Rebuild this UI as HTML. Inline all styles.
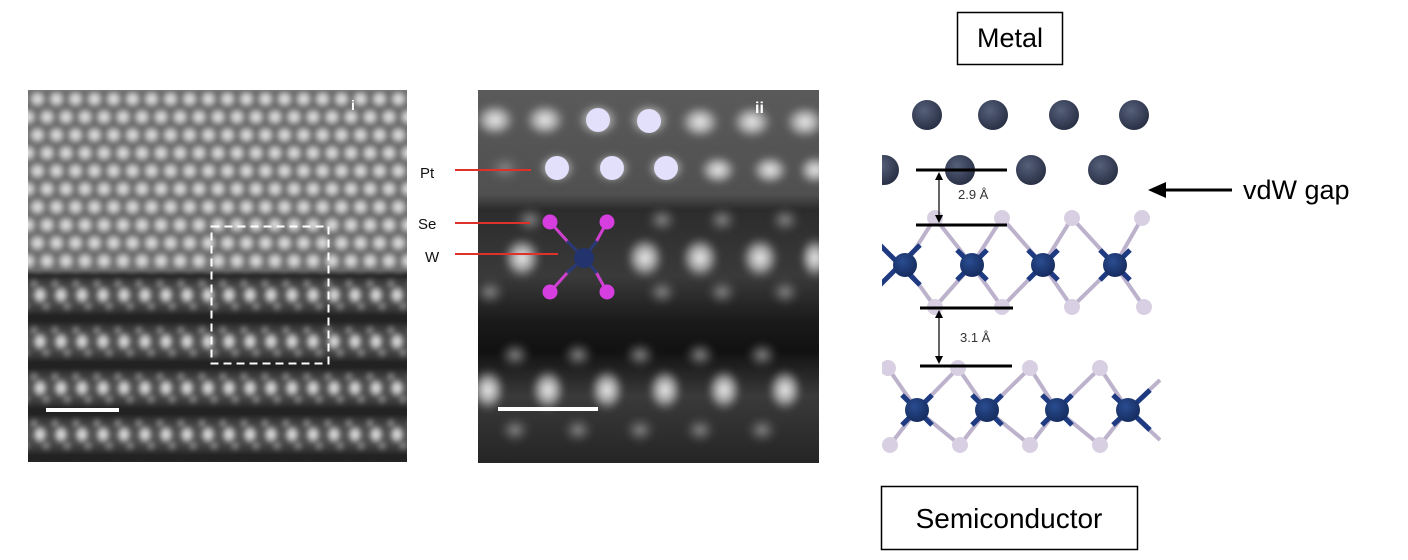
<!DOCTYPE html>
<html><head><meta charset="utf-8"><style>
html,body{margin:0;padding:0;background:#fff;}
body{width:1408px;height:560px;overflow:hidden;position:relative;font-family:"Liberation Sans",Arial,sans-serif;}
</style></head><body>
<svg width="1408" height="560" viewBox="0 0 1408 560" xmlns="http://www.w3.org/2000/svg" style="position:absolute;left:0;top:0">
<defs>
<radialGradient id="gb"><stop offset="0" stop-color="#f0f0f0"/><stop offset="0.5" stop-color="#c4c4c4" stop-opacity="0.85"/><stop offset="1" stop-color="#888" stop-opacity="0"/></radialGradient>
<radialGradient id="gd"><stop offset="0" stop-color="#9a9a9a"/><stop offset="1" stop-color="#777" stop-opacity="0"/></radialGradient>
<filter id="bl" x="-5%" y="-5%" width="110%" height="110%"><feGaussianBlur stdDeviation="2"/></filter>
<filter id="bl2" x="-5%" y="-5%" width="110%" height="110%"><feGaussianBlur stdDeviation="3"/></filter>
<clipPath id="lc"><rect x="28" y="90" width="379" height="372"/></clipPath>
<clipPath id="mc"><rect x="478" y="90" width="341" height="373"/></clipPath>
<pattern id="pTop" x="28" y="90" width="38" height="36" patternUnits="userSpaceOnUse">
<rect width="38" height="36" fill="#6a6a6a"/>
<circle cx="9.5" cy="9" r="10" fill="url(#gb)"/><circle cx="28.5" cy="9" r="10" fill="url(#gb)"/>
<circle cx="0" cy="27" r="10" fill="url(#gb)"/><circle cx="19" cy="27" r="10" fill="url(#gb)"/><circle cx="38" cy="27" r="10" fill="url(#gb)"/>
</pattern>
<linearGradient id="band" x1="0" y1="0" x2="0" y2="1">
<stop offset="0" stop-color="#1a1a1a"/><stop offset="0.3" stop-color="#484848"/><stop offset="0.5" stop-color="#555"/><stop offset="0.7" stop-color="#484848"/><stop offset="1" stop-color="#1a1a1a"/></linearGradient>
<pattern id="pBot" x="30" y="272" width="21" height="46.5" patternUnits="userSpaceOnUse">
<rect width="21" height="46.5" fill="url(#band)"/>
<ellipse cx="10" cy="23" rx="8" ry="10" fill="url(#gb)"/>
<circle cx="4" cy="12" r="6" fill="url(#gd)"/><circle cx="16" cy="34" r="6" fill="url(#gd)"/>
</pattern>
<radialGradient id="gm"><stop offset="0" stop-color="#f0f0f0"/><stop offset="0.5" stop-color="#bbb" stop-opacity="0.8"/><stop offset="1" stop-color="#777" stop-opacity="0"/></radialGradient>
<radialGradient id="gmd"><stop offset="0" stop-color="#8a8a8a"/><stop offset="1" stop-color="#555" stop-opacity="0"/></radialGradient>
<linearGradient id="midbg" x1="0" y1="0" x2="0" y2="1">
<stop offset="0" stop-color="#5a5a5a"/><stop offset="0.28" stop-color="#505050"/><stop offset="0.32" stop-color="#2c2c2c"/><stop offset="0.5" stop-color="#3a3a3a"/><stop offset="0.62" stop-color="#1a1a1a"/><stop offset="0.7" stop-color="#111"/><stop offset="0.82" stop-color="#3a3a3a"/><stop offset="1" stop-color="#252525"/></linearGradient>
</defs>

<!-- Left panel -->
<g clip-path="url(#lc)">
<g filter="url(#bl)">
<rect x="20" y="82" width="395" height="200" fill="url(#pTop)"/>
<rect x="20" y="272" width="395" height="198" fill="url(#pBot)"/>
</g>
</g>
<rect x="211.5" y="226.5" width="117" height="137" fill="none" stroke="#fff" stroke-width="2" stroke-dasharray="8,5"/>
<rect x="46" y="408" width="73" height="4" fill="#fff"/>
<text x="351" y="110" font-size="14" font-weight="bold" fill="#fff">i</text>

<!-- Middle panel -->
<rect x="478" y="90" width="341" height="373" fill="url(#midbg)"/>
<g clip-path="url(#mc)">
<g filter="url(#bl2)">
<g fill="url(#gm)">
<ellipse cx="495" cy="120" rx="22" ry="18"/><ellipse cx="545" cy="120" rx="22" ry="18"/><ellipse cx="598" cy="120" rx="22" ry="18"/><ellipse cx="649" cy="120" rx="22" ry="18"/><ellipse cx="700" cy="122" rx="22" ry="18"/><ellipse cx="752" cy="122" rx="22" ry="18"/><ellipse cx="805" cy="122" rx="22" ry="18"/>
<ellipse cx="505" cy="168" rx="20" ry="16" fill="url(#gmd)"/><ellipse cx="557" cy="168" rx="20" ry="16"/><ellipse cx="612" cy="168" rx="20" ry="16"/><ellipse cx="666" cy="168" rx="20" ry="16"/><ellipse cx="718" cy="170" rx="20" ry="16"/><ellipse cx="770" cy="170" rx="20" ry="16"/><ellipse cx="815" cy="170" rx="18" ry="16"/>
<ellipse cx="522" cy="258" rx="20" ry="22"/><ellipse cx="645" cy="258" rx="20" ry="22"/><ellipse cx="700" cy="258" rx="20" ry="22"/><ellipse cx="760" cy="258" rx="20" ry="22"/><ellipse cx="815" cy="258" rx="16" ry="22"/>
<ellipse cx="488" cy="390" rx="18" ry="22"/><ellipse cx="548" cy="390" rx="18" ry="22"/><ellipse cx="607" cy="390" rx="18" ry="22"/><ellipse cx="665" cy="390" rx="18" ry="22"/><ellipse cx="724" cy="390" rx="18" ry="22"/><ellipse cx="785" cy="390" rx="18" ry="22"/>
</g>
<g fill="url(#gmd)">
<ellipse cx="530" cy="220" rx="16" ry="14"/><ellipse cx="662" cy="220" rx="16" ry="14"/><ellipse cx="722" cy="220" rx="16" ry="14"/><ellipse cx="785" cy="220" rx="16" ry="14"/>
<ellipse cx="490" cy="292" rx="16" ry="14"/><ellipse cx="662" cy="292" rx="16" ry="14"/><ellipse cx="722" cy="292" rx="16" ry="14"/><ellipse cx="785" cy="292" rx="16" ry="14"/>
<ellipse cx="515" cy="355" rx="16" ry="14"/><ellipse cx="578" cy="355" rx="16" ry="14"/><ellipse cx="640" cy="355" rx="16" ry="14"/><ellipse cx="700" cy="355" rx="16" ry="14"/><ellipse cx="762" cy="355" rx="16" ry="14"/>
<ellipse cx="515" cy="430" rx="16" ry="14"/><ellipse cx="578" cy="430" rx="16" ry="14"/><ellipse cx="640" cy="430" rx="16" ry="14"/><ellipse cx="700" cy="430" rx="16" ry="14"/><ellipse cx="762" cy="430" rx="16" ry="14"/>
</g>
</g>
</g>
<g fill="#e2e0fa">
<circle cx="598" cy="120" r="12"/><circle cx="649" cy="121" r="12"/>
<circle cx="557" cy="168" r="12"/><circle cx="612" cy="168" r="12"/><circle cx="666" cy="168" r="12"/>
</g>
<g stroke-width="3" stroke-linecap="round">
<line x1="550" y1="222" x2="568" y2="242" stroke="#d040d0"/><line x1="568" y1="242" x2="584" y2="258" stroke="#2a3a78"/>
<line x1="607" y1="222" x2="596" y2="242" stroke="#d040d0"/><line x1="596" y1="242" x2="584" y2="258" stroke="#2a3a78"/>
<line x1="550" y1="292" x2="568" y2="272" stroke="#d040d0"/><line x1="568" y1="272" x2="584" y2="258" stroke="#2a3a78"/>
<line x1="607" y1="292" x2="596" y2="272" stroke="#d040d0"/><line x1="596" y1="272" x2="584" y2="258" stroke="#2a3a78"/>
</g>
<g fill="#d63ee0"><circle cx="550" cy="222" r="7.5"/><circle cx="607" cy="222" r="7.5"/><circle cx="550" cy="292" r="7.5"/><circle cx="607" cy="292" r="7.5"/></g>
<circle cx="584" cy="258" r="10" fill="#22336e"/>
<rect x="498" y="407" width="100" height="4" fill="#fff"/>
<text x="755" y="113" font-size="16" font-weight="bold" fill="#fff">ii</text>
<g stroke="#e0302a" stroke-width="2">
<line x1="455" y1="170" x2="531" y2="170"/><line x1="455" y1="223" x2="530" y2="223"/><line x1="455" y1="254" x2="558" y2="254"/>
</g>
<g font-size="15" fill="#111">
<text x="420" y="178">Pt</text><text x="418" y="229">Se</text><text x="425" y="262">W</text>
</g>

<!-- Right panel -->
<rect x="957.5" y="12.5" width="105" height="52" fill="#fff" stroke="#000" stroke-width="1.5"/>
<text x="1010" y="47" font-size="27" text-anchor="middle" fill="#000">Metal</text>
<rect x="881.5" y="486.5" width="256" height="63" fill="#fff" stroke="#000" stroke-width="1.5"/>
<text x="1009" y="528" font-size="28" text-anchor="middle" fill="#000">Semiconductor</text>

<defs><radialGradient id="ms" cx="0.4" cy="0.35" r="0.7"><stop offset="0" stop-color="#55607a"/><stop offset="1" stop-color="#262d42"/></radialGradient>
<radialGradient id="ws" cx="0.4" cy="0.35" r="0.7"><stop offset="0" stop-color="#2a4c90"/><stop offset="1" stop-color="#142a5c"/></radialGradient>
<clipPath id="rc"><rect x="882" y="90" width="280" height="375"/></clipPath></defs>
<g clip-path="url(#rc)">
<g fill="url(#ms)">
<circle cx="927" cy="115" r="15"/><circle cx="993" cy="115" r="15"/><circle cx="1064" cy="115" r="15"/><circle cx="1134" cy="115" r="15"/>
<circle cx="884" cy="170" r="15"/><circle cx="960" cy="170" r="15"/><circle cx="1031" cy="170" r="15"/><circle cx="1103" cy="170" r="15"/>
</g>
<g stroke="#bdb2cc" stroke-width="4" fill="none">
<polyline points="905,265 935,218 972,265 1002,218 1043,265 1072,218 1115,265 1142,218"/>
<polyline points="905,265 935,307 972,265 1002,307 1043,265 1072,307 1115,265 1144,307"/>
<polyline points="888,368 917,410 958,368 987,410 1030,368 1057,410 1100,368 1128,410 1160,380"/>
<polyline points="890,445 917,410 960,445 987,410 1030,445 1057,410 1100,445 1128,410 1160,440"/>
</g>
<g stroke="#1e3a80" stroke-width="5">
<line x1="880" y1="245" x2="920" y2="285"/><line x1="880" y1="285" x2="920" y2="245"/>
<line x1="957" y1="250" x2="987" y2="280"/><line x1="957" y1="280" x2="987" y2="250"/>
<line x1="1028" y1="250" x2="1058" y2="280"/><line x1="1028" y1="280" x2="1058" y2="250"/>
<line x1="1100" y1="250" x2="1130" y2="280"/><line x1="1100" y1="280" x2="1130" y2="250"/>
<line x1="902" y1="395" x2="932" y2="425"/><line x1="902" y1="425" x2="932" y2="395"/>
<line x1="972" y1="395" x2="1002" y2="425"/><line x1="972" y1="425" x2="1002" y2="395"/>
<line x1="1042" y1="395" x2="1072" y2="425"/><line x1="1042" y1="425" x2="1072" y2="395"/>
<line x1="1113" y1="395" x2="1150" y2="430"/><line x1="1113" y1="425" x2="1150" y2="390"/>
</g>
<g fill="url(#ws)">
<circle cx="905" cy="265" r="12"/><circle cx="972" cy="265" r="12"/><circle cx="1043" cy="265" r="12"/><circle cx="1115" cy="265" r="12"/>
<circle cx="917" cy="410" r="12"/><circle cx="987" cy="410" r="12"/><circle cx="1057" cy="410" r="12"/><circle cx="1128" cy="410" r="12"/>
</g>
<g fill="#d8d0e2">
<circle cx="935" cy="218" r="8"/><circle cx="1002" cy="218" r="8"/><circle cx="1072" cy="218" r="8"/><circle cx="1142" cy="218" r="8"/>
<circle cx="935" cy="307" r="8"/><circle cx="1002" cy="307" r="8"/><circle cx="1072" cy="307" r="8"/><circle cx="1144" cy="307" r="8"/>
<circle cx="888" cy="368" r="8"/><circle cx="958" cy="368" r="8"/><circle cx="1030" cy="368" r="8"/><circle cx="1100" cy="368" r="8"/>
<circle cx="890" cy="445" r="8"/><circle cx="960" cy="445" r="8"/><circle cx="1030" cy="445" r="8"/><circle cx="1100" cy="445" r="8"/>
</g>
</g>
<g stroke="#000" stroke-width="3">
<line x1="916" y1="170" x2="1007" y2="170"/><line x1="916" y1="225" x2="1007" y2="225"/>
<line x1="920" y1="308" x2="1013" y2="308"/><line x1="920" y1="366" x2="1012" y2="366"/>
</g>
<g stroke="#000" stroke-width="1.2">
<line x1="939" y1="176" x2="939" y2="219"/><line x1="939" y1="314" x2="939" y2="360"/>
</g>
<g fill="#000">
<polygon points="939,172 935,180 943,180"/><polygon points="939,223 935,215 943,215"/>
<polygon points="939,310 935,318 943,318"/><polygon points="939,364 935,356 943,356"/>
</g>
<text x="958" y="199" font-size="13" fill="#333">2.9 Å</text>
<text x="960" y="342" font-size="13" fill="#333">3.1 Å</text>
<line x1="1162" y1="190" x2="1232" y2="190" stroke="#000" stroke-width="3"/>
<polygon points="1148,190 1166,182 1166,198" fill="#000"/>
<text x="1243" y="199" font-size="27" fill="#000">vdW gap</text>
</svg>
</body></html>
